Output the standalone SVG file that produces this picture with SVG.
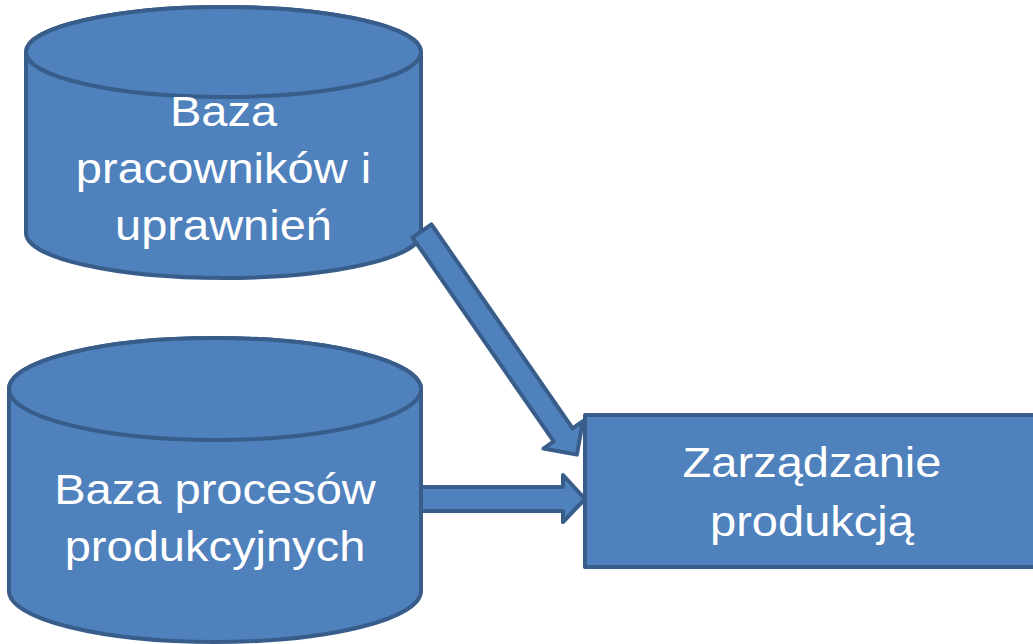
<svg xmlns="http://www.w3.org/2000/svg" width="1033" height="644" viewBox="0 0 1033 644">
<style>
.shape{fill:#4F81BD;stroke:#385D8A;stroke-width:4;stroke-linejoin:round}
.lbl{font-family:"Liberation Sans",Arial,sans-serif;font-size:42px;fill:#FFFFFF;text-anchor:middle}
</style>
<rect width="1033" height="644" fill="#FFFFFF"/>
<g id="db-pracownicy">
<path class="shape" d="M26,52 L26,233 A197.5,45 0 0 0 421,233 L421,52 A197.5,45 0 0 0 26,52 Z"/>
<ellipse class="shape" cx="223.5" cy="52" rx="197.5" ry="45"/>
<g transform="translate(223.5,0) scale(1.12,1)">
<text class="lbl" x="0" y="126">Baza</text>
<text class="lbl" x="0" y="183">pracowników i</text>
<text class="lbl" x="0" y="240">uprawnień</text>
</g>
</g>
<g id="db-procesy">
<path class="shape" d="M9,389 L9,591 A206,51 0 0 0 421,591 L421,389 A206,51 0 0 0 9,389 Z"/>
<ellipse class="shape" cx="215" cy="389" rx="206" ry="51"/>
<g transform="translate(215,0) scale(1.12,1)">
<text class="lbl" x="0" y="504">Baza procesów</text>
<text class="lbl" x="0" y="561">produkcyjnych</text>
</g>
</g>
<g id="connectors">
<path class="shape" transform="translate(422,231) rotate(55.3)" d="M0,-11.5 L248,-11.5 L248,-24 L272,0 L248,24 L248,11.5 L0,11.5 Z"/>
<path class="shape" d="M421,487 L563,487 L563,475 L585,499 L563,522 L563,511 L421,511 Z"/>
</g>
<g id="zarzadzanie">
<rect class="shape" x="585" y="415" width="456" height="152"/>
<g transform="translate(812,0) scale(1.12,1)">
<text class="lbl" x="0" y="477">Zarządzanie</text>
<text class="lbl" x="0" y="536">produkcją</text>
</g>
</g>
</svg>
